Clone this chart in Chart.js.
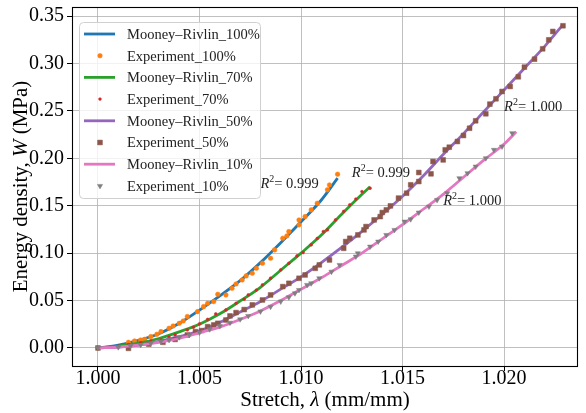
<!DOCTYPE html>
<html><head><meta charset="utf-8">
<script src="https://cdn.jsdelivr.net/npm/chart.js@4.4.1/dist/chart.umd.min.js"></script>
<style>html,body{margin:0;padding:0;background:#fff;overflow:hidden}canvas{display:block}</style>
</head><body><canvas id="c" width="586" height="413"></canvas>
<script>
// ---------- data ----------
const xTickValues = [1.000, 1.005, 1.010, 1.015, 1.020];
const xTickLabels = ['1.000', '1.005', '1.010', '1.015', '1.020'];
const yTickValues = [0.00, 0.05, 0.10, 0.15, 0.20, 0.25, 0.30, 0.35];
const yTickLabels = ['0.00', '0.05', '0.10', '0.15', '0.20', '0.25', '0.30', '0.35'];

const seriesNames = ['Mooney\u2013Rivlin_100%', 'Experiment_100%', 'Mooney\u2013Rivlin_70%', 'Experiment_70%',
                     'Mooney\u2013Rivlin_50%', 'Experiment_50%', 'Mooney\u2013Rivlin_10%', 'Experiment_10%'];

// Mooney-Rivlin fits
const mr100Stretch = [1.000,1.001,1.002,1.003,1.004,1.005,1.006,1.007,1.008,1.009,1.010,1.011,1.0118];
const mr100Energy  = [0,0.003,0.008,0.015,0.026,0.040,0.055,0.071,0.090,0.111,0.133,0.156,0.179];
const mr70Stretch  = [1.000,1.001,1.002,1.003,1.004,1.005,1.006,1.007,1.008,1.009,1.010,1.011,1.012,1.013,1.0134];
const mr70Energy   = [0,0.002,0.005,0.010,0.017,0.025,0.036,0.0495,0.064,0.082,0.100,0.119,0.141,0.162,0.170];
const mr50Stretch  = [1.000,1.001,1.002,1.003,1.004,1.005,1.006,1.007,1.008,1.009,1.010,1.011,1.012,1.013,1.014,1.015,1.016,1.017,1.018,1.019,1.020,1.021,1.022,1.0229];
const mr50Energy   = [0,0.001,0.003,0.007,0.012,0.018,0.027,0.038,0.049,0.062,0.075,0.090,0.106,0.123,0.141,0.160,0.181,0.204,0.226,0.249,0.272,0.295,0.318,0.341];
const mr10Stretch  = [1.000,1.001,1.002,1.003,1.004,1.005,1.006,1.007,1.008,1.009,1.010,1.011,1.012,1.013,1.014,1.015,1.016,1.017,1.018,1.019,1.020,1.0206];
const mr10Energy   = [0,0.001,0.003,0.006,0.010,0.016,0.022,0.030,0.039,0.050,0.062,0.074,0.087,0.100,0.115,0.130,0.146,0.162,0.180,0.198,0.215,0.228];

// Experiments
const exp100Stretch = [1.0000,1.0015,1.0018,1.0021,1.0023,1.0026,1.0029,1.0031,1.0035,1.0037,1.0040,1.0042,1.0044,1.0049,1.0052,1.0054,1.0057,1.0059,1.0063,1.0066,1.0068,1.0071,1.0073,1.0076,1.0078,1.0081,1.0085,1.0087,1.0091,1.0093,1.0094,1.0099,1.0099,1.0102,1.0105,1.0108,1.0113,1.0114,1.0118];
const exp100Energy  = [0,0.0060,0.0074,0.0084,0.0091,0.0120,0.0144,0.0172,0.0208,0.0232,0.0260,0.0285,0.0331,0.0383,0.0436,0.0471,0.0489,0.0566,0.0559,0.0629,0.0675,0.0717,0.0760,0.0788,0.0840,0.0893,0.0946,0.1034,0.1157,0.1181,0.1227,0.1298,0.1350,0.1385,0.1456,0.1526,0.1667,0.1719,0.1832];
const exp70Stretch  = [1.0000,1.0010,1.0015,1.0021,1.0026,1.0031,1.0035,1.0038,1.0044,1.0047,1.0050,1.0054,1.0058,1.0063,1.0068,1.0072,1.0074,1.0078,1.0081,1.0085,1.0090,1.0094,1.0098,1.0101,1.0105,1.0108,1.0111,1.0113,1.0117,1.0121,1.0124,1.0127,1.0130,1.0134];
const exp70Energy   = [0,0.0018,0.0035,0.0056,0.0072,0.0084,0.0113,0.0137,0.0190,0.0218,0.0255,0.0302,0.0359,0.0401,0.0471,0.0513,0.0559,0.0610,0.0665,0.0735,0.0823,0.0893,0.0971,0.1006,0.1087,0.1155,0.1227,0.1245,0.1350,0.1440,0.1509,0.1570,0.1649,0.1684];
const exp50Stretch  = [1.0000,1.0015,1.0025,1.0032,1.0038,1.0044,1.0048,1.0051,1.0054,1.0057,1.0059,1.0063,1.0065,1.0068,1.0072,1.0076,1.0081,1.0085,1.0091,1.0094,1.0099,1.0102,1.0107,1.0109,1.0114,1.0121,1.0122,1.0124,1.0128,1.0131,1.0132,1.0136,1.0139,1.0140,1.0142,1.0144,1.0148,1.0152,1.0154,1.0158,1.0158,1.0164,1.0165,1.0170,1.0171,1.0173,1.0177,1.0180,1.0183,1.0186,1.0191,1.0193,1.0196,1.0199,1.0203,1.0207,1.0210,1.0215,1.0219,1.0222,1.0224,1.0229];
const exp50Energy   = [0,-0.0004,0.0040,0.0060,0.0090,0.0137,0.0172,0.0183,0.0225,0.0243,0.0260,0.0295,0.0338,0.0373,0.0405,0.0454,0.0506,0.0559,0.0647,0.0682,0.0735,0.0770,0.0840,0.0876,0.0928,0.1051,0.1122,0.1157,0.1192,0.1245,0.1280,0.1350,0.1385,0.1428,0.1456,0.1498,0.1580,0.1632,0.1720,0.1850,0.1755,0.1836,0.1966,0.1983,0.2089,0.2117,0.2177,0.2240,0.2317,0.2395,0.2469,0.2571,0.2627,0.2704,0.2757,0.2859,0.2961,0.3045,0.3154,0.3249,0.3337,0.3397];
const exp10Stretch  = [1.0000,1.0010,1.0016,1.0021,1.0026,1.0031,1.0035,1.0040,1.0045,1.0050,1.0055,1.0060,1.0065,1.0070,1.0074,1.0080,1.0085,1.0090,1.0094,1.0097,1.0099,1.0103,1.0105,1.0109,1.0115,1.0119,1.0127,1.0128,1.0134,1.0138,1.0142,1.0146,1.0151,1.0154,1.0158,1.0163,1.0167,1.0172,1.0178,1.0182,1.0186,1.0191,1.0195,1.0199,1.0204];
const exp10Energy   = [0,0.0008,0.0021,0.0032,0.0049,0.0067,0.0084,0.0113,0.0137,0.0162,0.0197,0.0232,0.0267,0.0302,0.0338,0.0385,0.0435,0.0490,0.0535,0.0577,0.0612,0.0665,0.0682,0.0735,0.0805,0.0876,0.0964,0.0999,0.1069,0.1122,0.1192,0.1245,0.1333,0.1357,0.1428,0.1491,0.1561,0.1632,0.1790,0.1843,0.1913,0.2001,0.2089,0.2124,0.2265];

// R^2 annotations (anchor in data units, text)
const r2Stretch = [1.0080, 1.0125, 1.0200, 1.0170];
const r2Energy  = [0.169, 0.180, 0.250, 0.151];
const r2Text    = ['0.999', '0.999', '1.000', '1.000'];

// ---------- styling ----------
const FONT = '"Liberation Serif", "DejaVu Serif", serif';
const toXY = (xs, ys) => xs.map((x, i) => ({x: x, y: ys[i]}));

const lineStyle = (color) => ({type: 'line', showLine: true, borderColor: color, backgroundColor: color,
  borderWidth: 2.8, pointRadius: 0, cubicInterpolationMode: 'monotone', fill: false});
const ptStyle = (color, style, r, rot) => ({type: 'scatter', showLine: false, borderColor: color, backgroundColor: color,
  pointStyle: style, pointRadius: r, pointRotation: rot || 0, pointBorderWidth: 0.5});

const datasets = [
  Object.assign({label: seriesNames[0], data: toXY(mr100Stretch, mr100Energy)}, lineStyle('#1f77b4')),
  Object.assign({label: seriesNames[1], data: toXY(exp100Stretch, exp100Energy)}, ptStyle('#ff7f0e', 'circle', 2.3)),
  Object.assign({label: seriesNames[2], data: toXY(mr70Stretch, mr70Energy)}, lineStyle('#2ca02c')),
  Object.assign({label: seriesNames[3], data: toXY(exp70Stretch, exp70Energy)}, ptStyle('#d62728', 'circle', 1.4)),
  Object.assign({label: seriesNames[4], data: toXY(mr50Stretch, mr50Energy)}, lineStyle('#9467bd')),
  Object.assign({label: seriesNames[5], data: toXY(exp50Stretch, exp50Energy)}, ptStyle('#8c564b', 'rect', 3.4)),
  Object.assign({label: seriesNames[6], data: toXY(mr10Stretch, mr10Energy)}, lineStyle('#e377c2')),
  Object.assign({label: seriesNames[7], data: toXY(exp10Stretch, exp10Energy)}, ptStyle('#7f7f7f', 'triangle', 3.0, 180)),
];
datasets.forEach((d, i) => { d.order = datasets.length - i; });

function drawRich(ctx, parts, x, y, align) {
  // parts: [text, italic, size, dy]
  let total = 0;
  const widths = parts.map(p => { ctx.font = (p[1] ? 'italic ' : '') + p[2] + 'px ' + FONT; const w = ctx.measureText(p[0]).width; total += w; return w; });
  let cx = align === 'center' ? x - total / 2 : x;
  parts.forEach((p, i) => { ctx.font = (p[1] ? 'italic ' : '') + p[2] + 'px ' + FONT; ctx.fillText(p[0], cx, y + (p[3] || 0)); cx += widths[i]; });
}

const decorPlugin = {
  id: 'decor',
  afterDraw(chart) {
    const ctx = chart.ctx, a = chart.chartArea, xs = chart.scales.x, ys = chart.scales.y;
    ctx.save();
    // frame
    ctx.strokeStyle = '#000'; ctx.lineWidth = 1.1;
    ctx.strokeRect(Math.round(a.left) + 0.5, Math.round(a.top) + 0.5, Math.round(a.right - a.left) - 1, Math.round(a.bottom - a.top));
    // R^2 annotations
    ctx.fillStyle = '#222'; ctx.textBaseline = 'alphabetic'; ctx.textAlign = 'left';
    r2Stretch.forEach((sx, i) => {
      const px = xs.getPixelForValue(sx), py = ys.getPixelForValue(r2Energy[i]);
      drawRich(ctx, [['R', true, 14.5, 0], ['2', false, 10, -6], ['= ' + r2Text[i], false, 14.5, 0]], px, py, 'left');
    });
    // legend
    const L = {x: 79.5, y: 22.5, w: 181, h: 176, r: 4};
    ctx.beginPath();
    ctx.moveTo(L.x + L.r, L.y); ctx.lineTo(L.x + L.w - L.r, L.y); ctx.arcTo(L.x + L.w, L.y, L.x + L.w, L.y + L.r, L.r);
    ctx.lineTo(L.x + L.w, L.y + L.h - L.r); ctx.arcTo(L.x + L.w, L.y + L.h, L.x + L.w - L.r, L.y + L.h, L.r);
    ctx.lineTo(L.x + L.r, L.y + L.h); ctx.arcTo(L.x, L.y + L.h, L.x, L.y + L.h - L.r, L.r);
    ctx.lineTo(L.x, L.y + L.r); ctx.arcTo(L.x, L.y, L.x + L.r, L.y, L.r); ctx.closePath();
    ctx.fillStyle = 'rgba(255,255,255,0.8)'; ctx.fill();
    ctx.strokeStyle = '#d0d0d0'; ctx.lineWidth = 1; ctx.stroke();
    chart.data.datasets.forEach((d, i) => {
      const cy = 34 + i * 21.7;
      if (d.type === 'line') {
        ctx.strokeStyle = d.borderColor; ctx.lineWidth = 2.8; ctx.beginPath(); ctx.moveTo(84, cy); ctx.lineTo(115, cy); ctx.stroke();
      } else {
        ctx.fillStyle = d.backgroundColor; ctx.strokeStyle = d.borderColor; ctx.lineWidth = 0.5;
        Chart.helpers.drawPoint(ctx, {pointStyle: d.pointStyle, radius: d.pointRadius, rotation: d.pointRotation, borderWidth: 0.5}, 100, cy);
      }
      ctx.fillStyle = '#222'; ctx.textBaseline = 'middle'; ctx.font = '14.5px ' + FONT;
      ctx.fillText(d.label, 127, cy + 1);
    });
    // axis titles
    ctx.fillStyle = '#000'; ctx.textBaseline = 'alphabetic';
    drawRich(ctx, [['Stretch, ', false, 21], ['\u03bb', true, 21], [' (mm/mm)', false, 21]], (a.left + a.right) / 2, 406, 'center');
    ctx.translate(27, (a.top + a.bottom) / 2); ctx.rotate(-Math.PI / 2);
    drawRich(ctx, [['Energy density, ', false, 21], ['W', true, 21], [' (MPa)', false, 21]], 0, 0, 'center');
    ctx.restore();
  }
};

new Chart(document.getElementById('c'), {
  type: 'scatter',
  data: {datasets: datasets},
  plugins: [decorPlugin],
  options: {
    responsive: false, animation: false, devicePixelRatio: 1,
    layout: {padding: {top: 7, right: 8, left: 0, bottom: 0}},
    plugins: {legend: {display: false}, tooltip: {enabled: false}},
    scales: {
      x: {
        type: 'linear', min: 0.99872, max: 1.02364,
        afterBuildTicks: s => { s.ticks = xTickValues.map(v => ({value: v})); },
        afterFit: s => { s.height = 47; s.paddingLeft = 0; s.paddingRight = 0; },
        ticks: {callback: (v, i) => xTickLabels[i], font: {family: FONT, size: 20}, color: '#000', padding: -4, maxRotation: 0, autoSkip: false},
        grid: {color: '#b0b0b0', lineWidth: 0.8, tickColor: '#000', tickLength: 5, tickWidth: 1},
        border: {display: false}
      },
      y: {
        type: 'linear', min: -0.0190, max: 0.3595,
        afterBuildTicks: s => { s.ticks = yTickValues.map(v => ({value: v})); },
        afterFit: s => { s.width = 72; s.paddingTop = 0; s.paddingBottom = 0; },
        ticks: {callback: (v, i) => yTickLabels[i], font: {family: FONT, size: 20}, color: '#000', padding: 3, autoSkip: false},
        grid: {color: '#b0b0b0', lineWidth: 0.8, tickColor: '#000', tickLength: 5, tickWidth: 1},
        border: {display: false}
      }
    }
  }
});
</script>
</body></html>
